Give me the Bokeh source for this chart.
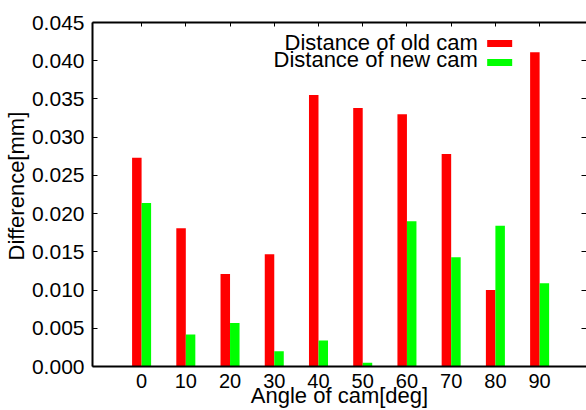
from bokeh.plotting import figure
from bokeh.models import (Range1d, LinearAxis, FixedTicker, Label, Title,
                          PrintfTickFormatter, ColumnDataSource)
from bokeh.transform import dodge
from bokeh.embed import file_html
from bokeh.resources import INLINE

# ---- data ----
angles = [0, 10, 20, 30, 40, 50, 60, 70, 80, 90]
tick_labels = ["0", "10", "20", "30", "40", "50", "60", "70", "80", "90"]
old_cam = [0.0273, 0.0181, 0.0121, 0.0147, 0.0355, 0.0338, 0.0330, 0.0278, 0.0100, 0.0411]
new_cam = [0.0214, 0.0042, 0.0057, 0.0020, 0.0034, 0.0005, 0.0190, 0.0143, 0.0184, 0.0109]
series_names = ["Distance of old cam", "Distance of new cam"]
y_ticks = [0.0, 0.005, 0.010, 0.015, 0.020, 0.025, 0.030, 0.035, 0.040, 0.045]

RED = "#ff0000"
GREEN = "#00ff00"
FONT = "Liberation Sans"
bar_w = 2.15

src = ColumnDataSource(dict(angle=angles, old=old_cam, new=new_cam))

p = figure(width=586, height=410, output_backend="svg", toolbar_location=None,
           x_range=Range1d(-11.1, 100.6), y_range=Range1d(0, 0.045),
           min_border_left=92, min_border_right=0, min_border_top=22,
           min_border_bottom=44)
p.outline_line_color = None
p.xgrid.visible = False
p.ygrid.visible = False
p.background_fill_color = "white"
p.border_fill_color = "white"

p.vbar(x=dodge("angle", -bar_w / 2, range=p.x_range), top="old", width=bar_w,
       bottom=0, source=src, fill_color=RED, line_color=None)
p.vbar(x=dodge("angle", bar_w / 2, range=p.x_range), top="new", width=bar_w,
       bottom=0, source=src, fill_color=GREEN, line_color=None)

# bottom axis
xa = p.xaxis[0]
xa.ticker = FixedTicker(ticks=angles)
xa.major_label_overrides = {a: t for a, t in zip(angles, tick_labels)}
xa.major_tick_in = 0
xa.major_tick_out = 0
xa.minor_tick_line_color = None
xa.axis_line_width = 2
xa.axis_line_color = "black"
xa.major_label_text_font = FONT
xa.major_label_text_font_size = "20px"
xa.major_label_text_color = "black"
xa.major_label_standoff = 7
xa.axis_label = "Angle of cam[deg]"
xa.axis_label_text_font = FONT
xa.axis_label_text_font_size = "22px"
xa.axis_label_text_font_style = "normal"
xa.axis_label_text_color = "black"
xa.axis_label_standoff = -8

# left axis
ya = p.yaxis[0]
ya.ticker = FixedTicker(ticks=y_ticks)
ya.formatter = PrintfTickFormatter(format="%.3f")
ya.major_tick_in = 5
ya.major_tick_out = 0
ya.major_tick_line_width = 1
ya.minor_tick_line_color = None
ya.axis_line_width = 2
ya.axis_line_color = "black"
ya.major_label_text_font = FONT
ya.major_label_text_font_size = "21px"
ya.major_label_text_color = "black"
ya.major_label_standoff = 8

p.add_layout(Title(text="Difference[mm]", align="left", offset=106,
                   text_font=FONT, text_font_size="22px", text_font_style="normal",
                   text_color="black", standoff=0), "left")

# top mirror axis (ticks only)
ta = LinearAxis(ticker=FixedTicker(ticks=angles), major_tick_in=4, major_tick_out=0,
                minor_tick_line_color=None, axis_line_width=2, axis_line_color="black",
                major_label_text_font_size="0px", major_label_text_color=None,
                major_label_standoff=0)
p.add_layout(ta, "above")

# right mirror axis (ticks only)
ra = LinearAxis(ticker=FixedTicker(ticks=y_ticks), major_tick_in=5, major_tick_out=0,
                minor_tick_line_color=None, axis_line_color=None,
                major_label_text_font_size="0px", major_label_text_color=None,
                major_label_standoff=0)
p.add_layout(ra, "right")

# legend (gnuplot style: text then swatch)
leg_text_x = 76.0
leg_sw_x = 80.97
leg_rows_text = [0.04241, 0.04016]
leg_rows_sw = [0.04225, 0.03977]
for name, col, ty, sy in zip(series_names, [RED, GREEN], leg_rows_text, leg_rows_sw):
    p.add_layout(Label(x=leg_text_x, y=ty, text=name, text_align="right",
                       text_baseline="middle", text_font=FONT, text_font_size="22px",
                       text_color="black"))
    p.rect(x=[leg_sw_x], y=[sy], width=25, height=7, width_units="screen",
           height_units="screen", fill_color=col, line_color=None)

open("out.html", "w").write(file_html(p, INLINE))
